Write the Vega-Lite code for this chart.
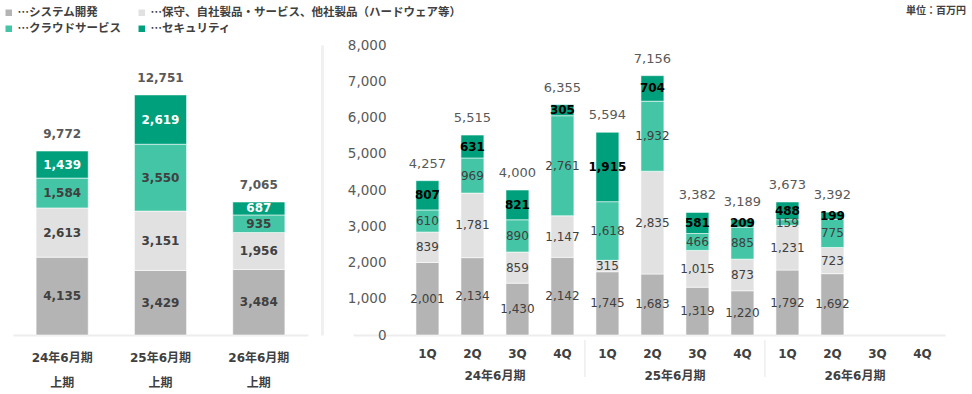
{
  "$schema": "https://vega.github.io/schema/vega-lite/v6.json",
  "padding": {"left": 3, "top": 6, "right": 5, "bottom": 5},
  "background": "#ffffff",
  "bounds": "flush",
  "spacing": 45,
  "config": {
    "font": "DejaVu Sans, Noto Sans CJK JP",
    "view": {"stroke": null},
    "axis": {"grid": false, "ticks": false},
    "axisY": {"labelOverlap": false},
    "legend": {"gridAlign": "none"}
  },
  "datasets": {
    "half": [
      {"fy": "24年6月期", "series": "システム開発", "k": 1, "value": 4135},
      {"fy": "24年6月期", "series": "保守、自社製品・サービス、他社製品（ハードウェア等）", "k": 2, "value": 2613},
      {"fy": "24年6月期", "series": "クラウドサービス", "k": 3, "value": 1584},
      {"fy": "24年6月期", "series": "セキュリティ", "k": 4, "value": 1439},
      {"fy": "25年6月期", "series": "システム開発", "k": 1, "value": 3429},
      {"fy": "25年6月期", "series": "保守、自社製品・サービス、他社製品（ハードウェア等）", "k": 2, "value": 3151},
      {"fy": "25年6月期", "series": "クラウドサービス", "k": 3, "value": 3550},
      {"fy": "25年6月期", "series": "セキュリティ", "k": 4, "value": 2619},
      {"fy": "26年6月期", "series": "システム開発", "k": 1, "value": 3484},
      {"fy": "26年6月期", "series": "保守、自社製品・サービス、他社製品（ハードウェア等）", "k": 2, "value": 1956},
      {"fy": "26年6月期", "series": "クラウドサービス", "k": 3, "value": 935},
      {"fy": "26年6月期", "series": "セキュリティ", "k": 4, "value": 687}
    ],
    "halfTotals": [
      {"fy": "24年6月期", "total": 9772},
      {"fy": "25年6月期", "total": 12751},
      {"fy": "26年6月期", "total": 7065}
    ],
    "qtr": [
      {"fy": "24年6月期", "q": "1Q", "period": "24年6月期 1Q", "series": "システム開発", "k": 1, "value": 2001},
      {"fy": "24年6月期", "q": "1Q", "period": "24年6月期 1Q", "series": "保守、自社製品・サービス、他社製品（ハードウェア等）", "k": 2, "value": 839},
      {"fy": "24年6月期", "q": "1Q", "period": "24年6月期 1Q", "series": "クラウドサービス", "k": 3, "value": 610},
      {"fy": "24年6月期", "q": "1Q", "period": "24年6月期 1Q", "series": "セキュリティ", "k": 4, "value": 807},
      {"fy": "24年6月期", "q": "2Q", "period": "24年6月期 2Q", "series": "システム開発", "k": 1, "value": 2134},
      {"fy": "24年6月期", "q": "2Q", "period": "24年6月期 2Q", "series": "保守、自社製品・サービス、他社製品（ハードウェア等）", "k": 2, "value": 1781},
      {"fy": "24年6月期", "q": "2Q", "period": "24年6月期 2Q", "series": "クラウドサービス", "k": 3, "value": 969},
      {"fy": "24年6月期", "q": "2Q", "period": "24年6月期 2Q", "series": "セキュリティ", "k": 4, "value": 631},
      {"fy": "24年6月期", "q": "3Q", "period": "24年6月期 3Q", "series": "システム開発", "k": 1, "value": 1430},
      {"fy": "24年6月期", "q": "3Q", "period": "24年6月期 3Q", "series": "保守、自社製品・サービス、他社製品（ハードウェア等）", "k": 2, "value": 859},
      {"fy": "24年6月期", "q": "3Q", "period": "24年6月期 3Q", "series": "クラウドサービス", "k": 3, "value": 890},
      {"fy": "24年6月期", "q": "3Q", "period": "24年6月期 3Q", "series": "セキュリティ", "k": 4, "value": 821},
      {"fy": "24年6月期", "q": "4Q", "period": "24年6月期 4Q", "series": "システム開発", "k": 1, "value": 2142},
      {"fy": "24年6月期", "q": "4Q", "period": "24年6月期 4Q", "series": "保守、自社製品・サービス、他社製品（ハードウェア等）", "k": 2, "value": 1147},
      {"fy": "24年6月期", "q": "4Q", "period": "24年6月期 4Q", "series": "クラウドサービス", "k": 3, "value": 2761},
      {"fy": "24年6月期", "q": "4Q", "period": "24年6月期 4Q", "series": "セキュリティ", "k": 4, "value": 305},
      {"fy": "25年6月期", "q": "1Q", "period": "25年6月期 1Q", "series": "システム開発", "k": 1, "value": 1745},
      {"fy": "25年6月期", "q": "1Q", "period": "25年6月期 1Q", "series": "保守、自社製品・サービス、他社製品（ハードウェア等）", "k": 2, "value": 315},
      {"fy": "25年6月期", "q": "1Q", "period": "25年6月期 1Q", "series": "クラウドサービス", "k": 3, "value": 1618},
      {"fy": "25年6月期", "q": "1Q", "period": "25年6月期 1Q", "series": "セキュリティ", "k": 4, "value": 1915},
      {"fy": "25年6月期", "q": "2Q", "period": "25年6月期 2Q", "series": "システム開発", "k": 1, "value": 1683},
      {"fy": "25年6月期", "q": "2Q", "period": "25年6月期 2Q", "series": "保守、自社製品・サービス、他社製品（ハードウェア等）", "k": 2, "value": 2835},
      {"fy": "25年6月期", "q": "2Q", "period": "25年6月期 2Q", "series": "クラウドサービス", "k": 3, "value": 1932},
      {"fy": "25年6月期", "q": "2Q", "period": "25年6月期 2Q", "series": "セキュリティ", "k": 4, "value": 704},
      {"fy": "25年6月期", "q": "3Q", "period": "25年6月期 3Q", "series": "システム開発", "k": 1, "value": 1319},
      {"fy": "25年6月期", "q": "3Q", "period": "25年6月期 3Q", "series": "保守、自社製品・サービス、他社製品（ハードウェア等）", "k": 2, "value": 1015},
      {"fy": "25年6月期", "q": "3Q", "period": "25年6月期 3Q", "series": "クラウドサービス", "k": 3, "value": 466},
      {"fy": "25年6月期", "q": "3Q", "period": "25年6月期 3Q", "series": "セキュリティ", "k": 4, "value": 581},
      {"fy": "25年6月期", "q": "4Q", "period": "25年6月期 4Q", "series": "システム開発", "k": 1, "value": 1220},
      {"fy": "25年6月期", "q": "4Q", "period": "25年6月期 4Q", "series": "保守、自社製品・サービス、他社製品（ハードウェア等）", "k": 2, "value": 873},
      {"fy": "25年6月期", "q": "4Q", "period": "25年6月期 4Q", "series": "クラウドサービス", "k": 3, "value": 885},
      {"fy": "25年6月期", "q": "4Q", "period": "25年6月期 4Q", "series": "セキュリティ", "k": 4, "value": 209},
      {"fy": "26年6月期", "q": "1Q", "period": "26年6月期 1Q", "series": "システム開発", "k": 1, "value": 1792},
      {"fy": "26年6月期", "q": "1Q", "period": "26年6月期 1Q", "series": "保守、自社製品・サービス、他社製品（ハードウェア等）", "k": 2, "value": 1231},
      {"fy": "26年6月期", "q": "1Q", "period": "26年6月期 1Q", "series": "クラウドサービス", "k": 3, "value": 159},
      {"fy": "26年6月期", "q": "1Q", "period": "26年6月期 1Q", "series": "セキュリティ", "k": 4, "value": 488},
      {"fy": "26年6月期", "q": "2Q", "period": "26年6月期 2Q", "series": "システム開発", "k": 1, "value": 1692},
      {"fy": "26年6月期", "q": "2Q", "period": "26年6月期 2Q", "series": "保守、自社製品・サービス、他社製品（ハードウェア等）", "k": 2, "value": 723},
      {"fy": "26年6月期", "q": "2Q", "period": "26年6月期 2Q", "series": "クラウドサービス", "k": 3, "value": 775},
      {"fy": "26年6月期", "q": "2Q", "period": "26年6月期 2Q", "series": "セキュリティ", "k": 4, "value": 199}
    ],
    "qTotals": [
      {"period": "24年6月期 1Q", "total": 4257},
      {"period": "24年6月期 2Q", "total": 5515},
      {"period": "24年6月期 3Q", "total": 4000},
      {"period": "24年6月期 4Q", "total": 6355},
      {"period": "25年6月期 1Q", "total": 5594},
      {"period": "25年6月期 2Q", "total": 7156},
      {"period": "25年6月期 3Q", "total": 3382},
      {"period": "25年6月期 4Q", "total": 3189},
      {"period": "26年6月期 1Q", "total": 3673},
      {"period": "26年6月期 2Q", "total": 3392}
    ]
  },
  "resolve": {"scale": {"x": "independent", "y": "independent", "color": "shared"}},
  "hconcat": [
    {
      "width": 295,
      "height": 290,
      "layer": [
        {
          "data": {"name": "half"},
          "mark": {"type": "bar", "stroke": "#ffffff", "strokeWidth": 0.8, "strokeOpacity": 0.7},
          "encoding": {
            "x": {"field": "fy", "type": "nominal", "scale": {"domain": ["24年6月期", "25年6月期", "26年6月期"], "paddingInner": 0.47, "paddingOuter": 0.235},
              "axis": {"title": null, "labelExpr": "[datum.label, '上期']", "labelAngle": 0, "labelFontSize": 12, "labelFontWeight": "bold", "labelColor": "#404040", "labelPadding": 17, "labelLineHeight": 25, "domainColor": "#ededed", "domainWidth": 2, "ticks": false}},
            "y": {"field": "value", "type": "quantitative", "stack": "zero", "scale": {"domain": [0, 15400], "nice": false},
              "axis": {"orient": "right", "offset": 14, "labels": false, "ticks": false, "grid": false, "title": null, "domainColor": "#f0f0f0", "domainWidth": 3}},
            "color": {"field": "series", "type": "nominal",
              "scale": {"domain": ["システム開発", "保守、自社製品・サービス、他社製品（ハードウェア等）", "クラウドサービス", "セキュリティ"], "range": ["#b4b4b4", "#e1e1e1", "#44c6a6", "#00a07c"]},
              "legend": {"orient": "none", "legendX": -10, "legendY": -38, "columns": 2, "direction": "horizontal", "gridAlign": "none", "title": null, "symbolType": "square", "symbolSize": 42, "symbolStrokeWidth": 0, "labelFont": "Noto Sans CJK JP", "labelFontSize": 11.5, "labelFontWeight": "bold", "labelColor": "#404040", "labelExpr": "'…' + datum.label", "labelLimit": 500, "columnPadding": 15, "rowPadding": 3, "labelOffset": 3, "padding": 0}},
            "order": {"field": "k", "type": "quantitative"}
          }
        },
        {
          "data": {"name": "half"},
          "mark": {"type": "text", "fontSize": 12, "fontWeight": "bold", "baseline": "middle"},
          "encoding": {
            "x": {"field": "fy", "type": "nominal"},
            "y": {"field": "value", "type": "quantitative", "stack": "zero", "bandPosition": 0.5},
            "detail": {"field": "series"},
            "order": {"field": "k", "type": "quantitative"},
            "color": {"condition": {"test": "datum.series === 'セキュリティ'", "value": "#ffffff"}, "value": "#404040"},
            "text": {"field": "value", "type": "quantitative", "format": ",d"}
          }
        },
        {
          "data": {"name": "halfTotals"},
          "mark": {"type": "text", "fontSize": 12, "fontWeight": "bold", "color": "#595959", "baseline": "alphabetic", "dy": -13},
          "encoding": {
            "x": {"field": "fy", "type": "nominal"},
            "y": {"field": "total", "type": "quantitative"},
            "text": {"field": "total", "type": "quantitative", "format": ",d"}
          }
        }
      ]
    },
    {
      "width": 592,
      "height": 290,
      "title": {"text": "単位：百万円", "anchor": "end", "frame": "group", "fontSize": 10, "fontWeight": "bold", "color": "#404040", "dx": 21, "offset": 22},
      "layer": [
        {
          "data": {"name": "qtr"},
          "mark": {"type": "bar", "stroke": "#ffffff", "strokeWidth": 0.8, "strokeOpacity": 0.7},
          "encoding": {
            "x": {"field": "period", "type": "nominal",
              "scale": {"domain": ["24年6月期 1Q", "24年6月期 2Q", "24年6月期 3Q", "24年6月期 4Q", "25年6月期 1Q", "25年6月期 2Q", "25年6月期 3Q", "25年6月期 4Q", "26年6月期 1Q", "26年6月期 2Q", "26年6月期 3Q", "26年6月期 4Q"], "paddingInner": 0.49, "paddingOuter": 0.823, "align": 0.85},
              "axis": {"title": null, "labelExpr": "substring(datum.label, 7)", "labelAngle": 0, "labelFontSize": 12, "labelFontWeight": "bold", "labelColor": "#404040", "labelPadding": 13, "domainColor": "#ededed", "domainWidth": 2, "ticks": false}},
            "y": {"field": "value", "type": "quantitative", "stack": "zero", "scale": {"domain": [0, 8000], "nice": false},
              "axis": {"title": null, "orient": "left", "values": [0, 1000, 2000, 3000, 4000, 5000, 6000, 7000, 8000], "tickCount": 9, "format": ",d", "labelOverlap": false, "labelFontSize": 13.5, "labelColor": "#595959", "labelPadding": -33, "domain": false, "ticks": false, "grid": false}},
            "color": {"field": "series", "type": "nominal",
              "scale": {"domain": ["システム開発", "保守、自社製品・サービス、他社製品（ハードウェア等）", "クラウドサービス", "セキュリティ"], "range": ["#b4b4b4", "#e1e1e1", "#44c6a6", "#00a07c"]},
              "legend": {"orient": "none", "legendX": -10, "legendY": -38, "columns": 2, "direction": "horizontal", "gridAlign": "none", "title": null, "symbolType": "square", "symbolSize": 42, "symbolStrokeWidth": 0, "labelFont": "Noto Sans CJK JP", "labelFontSize": 11.5, "labelFontWeight": "bold", "labelColor": "#404040", "labelExpr": "'…' + datum.label", "labelLimit": 500, "columnPadding": 15, "rowPadding": 3, "labelOffset": 3, "padding": 0}},
            "order": {"field": "k", "type": "quantitative"}
          }
        },
        {
          "data": {"name": "qtr"},
          "mark": {"type": "text", "fontSize": 12, "color": "#404040", "baseline": "middle"},
          "encoding": {
            "x": {"field": "period", "type": "nominal"},
            "y": {"field": "value", "type": "quantitative", "stack": "zero", "bandPosition": 0.5},
            "detail": {"field": "series"},
            "order": {"field": "k", "type": "quantitative"},
            "text": {"condition": {"test": "datum.series !== 'セキュリティ'", "field": "value", "type": "quantitative", "format": ",d"}, "value": ""}
          }
        },
        {
          "data": {"name": "qtr"},
          "mark": {"type": "text", "fontSize": 12, "fontWeight": "bold", "color": "#000000", "baseline": "middle"},
          "encoding": {
            "x": {"field": "period", "type": "nominal"},
            "y": {"field": "value", "type": "quantitative", "stack": "zero", "bandPosition": 0.5},
            "detail": {"field": "series"},
            "order": {"field": "k", "type": "quantitative"},
            "text": {"condition": {"test": "datum.series === 'セキュリティ'", "field": "value", "type": "quantitative", "format": ",d"}, "value": ""}
          }
        },
        {
          "data": {"name": "qTotals"},
          "mark": {"type": "text", "fontSize": 13, "color": "#595959", "baseline": "alphabetic", "dy": -13},
          "encoding": {
            "x": {"field": "period", "type": "nominal"},
            "y": {"field": "total", "type": "quantitative"},
            "text": {"field": "total", "type": "quantitative", "format": ",d"}
          }
        },
        {
          "data": {"name": "qtr"},
          "transform": [{"filter": "datum.q === '2Q' && datum.k === 1"}],
          "mark": {"type": "text", "fontSize": 12, "fontWeight": "bold", "color": "#404040", "baseline": "middle", "xOffset": 22.5, "yOffset": 41},
          "encoding": {
            "x": {"field": "period", "type": "nominal"},
            "y": {"datum": 0, "type": "quantitative"},
            "text": {"field": "fy", "type": "nominal"}
          }
        },
        {
          "data": {"name": "qtr"},
          "transform": [{"filter": "datum.q === '1Q' && datum.k === 1 && datum.fy !== '24年6月期'"}],
          "mark": {"type": "rule", "color": "#e6e6e6", "strokeWidth": 1, "xOffset": -22.5, "yOffset": 5, "y2Offset": 42},
          "encoding": {
            "x": {"field": "period", "type": "nominal"},
            "y": {"datum": 0, "type": "quantitative"},
            "y2": {"datum": 0}
          }
        }
      ]
    }
  ]
}
